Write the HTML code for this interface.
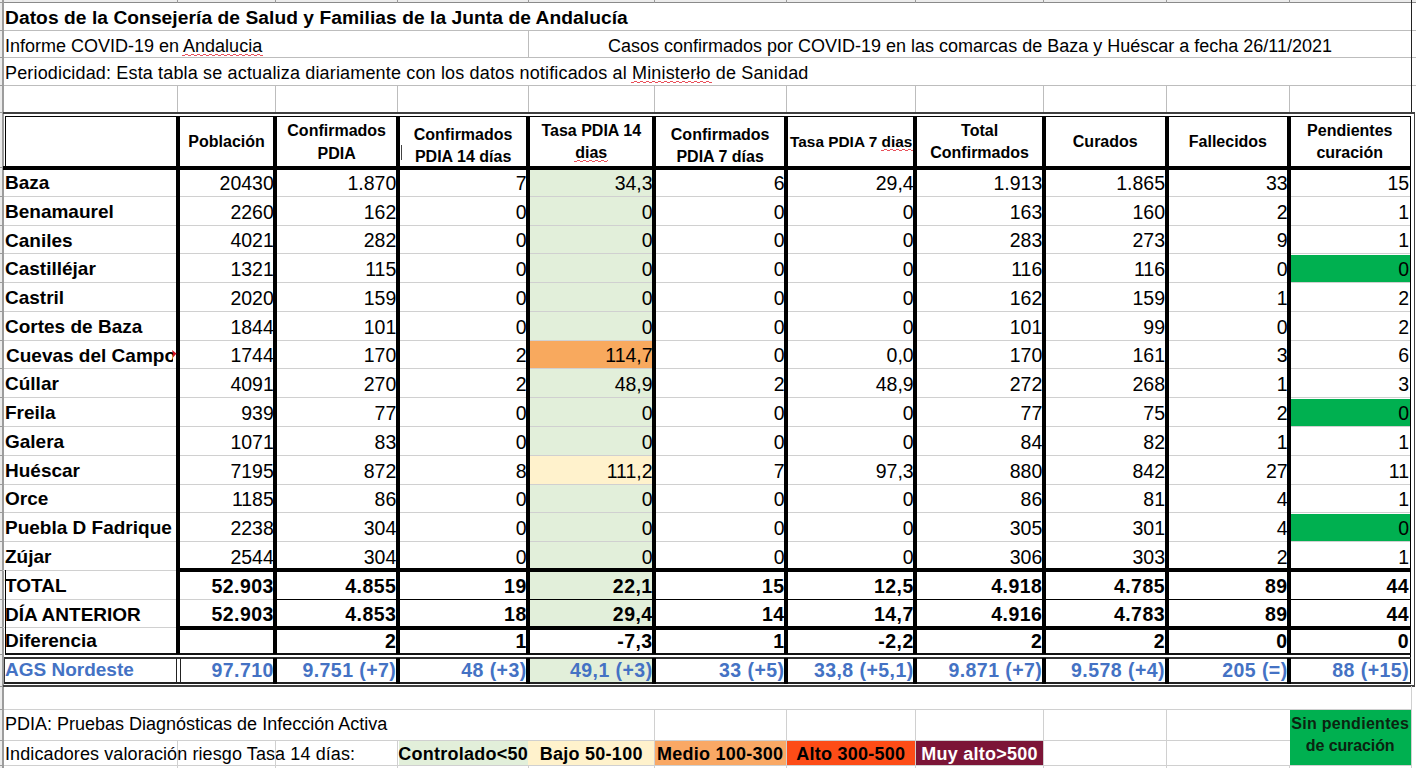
<!DOCTYPE html>
<html><head><meta charset="utf-8"><style>
html,body{margin:0;padding:0;background:#fff;}
body{position:relative;width:1416px;height:768px;overflow:hidden;font-family:"Liberation Sans",sans-serif;}
body>div{position:absolute;}
.t{white-space:nowrap;line-height:0;height:0;color:#000;}
.sq{position:relative;}
.sq::after{content:'';position:absolute;left:-1px;right:-1px;top:calc(0.905em + 2px);height:2px;background:repeating-linear-gradient(90deg,transparent 0 3px,#e8505a 3px 6px) 0 0/100% 1px no-repeat,repeating-linear-gradient(90deg,#e8505a 0 3px,transparent 3px 6px) 0 1px/100% 1px no-repeat;}
</style></head><body>
<div style="left:0px;top:0px;width:1416px;height:2px;background:#ececec;"></div>
<div style="left:0px;top:0px;width:2px;height:768px;background:#ececec;"></div>
<div style="left:530px;top:170px;width:122px;height:458px;background:#e2efda;"></div>
<div style="left:530px;top:659px;width:122px;height:23px;background:#e2efda;"></div>
<div style="left:530px;top:341px;width:122px;height:28px;background:#f8a95e;"></div>
<div style="left:530px;top:456px;width:122px;height:28px;background:#fff2cc;"></div>
<div style="left:1291px;top:255px;width:119px;height:28px;background:#00b050;"></div>
<div style="left:1291px;top:399px;width:119px;height:28px;background:#00b050;"></div>
<div style="left:1291px;top:514px;width:119px;height:28px;background:#00b050;"></div>
<div style="left:399px;top:741px;width:129px;height:24px;background:#e2efda;"></div>
<div style="left:528px;top:741px;width:126px;height:24px;background:#fff2cc;"></div>
<div style="left:654px;top:741px;width:132px;height:24px;background:#f9a865;"></div>
<div style="left:786px;top:741px;width:129px;height:24px;background:#fd4c17;"></div>
<div style="left:915px;top:741px;width:129px;height:24px;background:#7c1537;"></div>
<div style="left:2px;top:2px;width:1414px;height:1px;background:#8a8a8a;"></div>
<div style="left:2px;top:30px;width:1414px;height:1px;background:#bdbdbd;"></div>
<div style="left:2px;top:57px;width:1414px;height:1px;background:#bdbdbd;"></div>
<div style="left:2px;top:85px;width:1414px;height:1px;background:#bdbdbd;"></div>
<div style="left:0px;top:2px;width:2px;height:1px;background:#9a9a9a;"></div>
<div style="left:0px;top:30px;width:2px;height:1px;background:#9a9a9a;"></div>
<div style="left:0px;top:57px;width:2px;height:1px;background:#9a9a9a;"></div>
<div style="left:0px;top:85px;width:2px;height:1px;background:#9a9a9a;"></div>
<div style="left:0px;top:112px;width:2px;height:1px;background:#9a9a9a;"></div>
<div style="left:0px;top:167px;width:2px;height:1px;background:#9a9a9a;"></div>
<div style="left:0px;top:196px;width:2px;height:1px;background:#9a9a9a;"></div>
<div style="left:0px;top:225px;width:2px;height:1px;background:#9a9a9a;"></div>
<div style="left:0px;top:253px;width:2px;height:1px;background:#9a9a9a;"></div>
<div style="left:0px;top:282px;width:2px;height:1px;background:#9a9a9a;"></div>
<div style="left:0px;top:311px;width:2px;height:1px;background:#9a9a9a;"></div>
<div style="left:0px;top:340px;width:2px;height:1px;background:#9a9a9a;"></div>
<div style="left:0px;top:368px;width:2px;height:1px;background:#9a9a9a;"></div>
<div style="left:0px;top:397px;width:2px;height:1px;background:#9a9a9a;"></div>
<div style="left:0px;top:426px;width:2px;height:1px;background:#9a9a9a;"></div>
<div style="left:0px;top:455px;width:2px;height:1px;background:#9a9a9a;"></div>
<div style="left:0px;top:484px;width:2px;height:1px;background:#9a9a9a;"></div>
<div style="left:0px;top:512px;width:2px;height:1px;background:#9a9a9a;"></div>
<div style="left:0px;top:541px;width:2px;height:1px;background:#9a9a9a;"></div>
<div style="left:0px;top:570px;width:2px;height:1px;background:#9a9a9a;"></div>
<div style="left:0px;top:599px;width:2px;height:1px;background:#9a9a9a;"></div>
<div style="left:0px;top:627px;width:2px;height:1px;background:#9a9a9a;"></div>
<div style="left:0px;top:654px;width:2px;height:1px;background:#9a9a9a;"></div>
<div style="left:0px;top:686px;width:2px;height:1px;background:#9a9a9a;"></div>
<div style="left:0px;top:709px;width:2px;height:1px;background:#9a9a9a;"></div>
<div style="left:0px;top:740px;width:2px;height:1px;background:#9a9a9a;"></div>
<div style="left:0px;top:765px;width:2px;height:1px;background:#9a9a9a;"></div>
<div style="left:2px;top:0px;width:2px;height:768px;background:#9c9c9c;"></div>
<div style="left:528px;top:30px;width:1px;height:27px;background:#bdbdbd;"></div>
<div style="left:177px;top:85px;width:1px;height:27px;background:#bdbdbd;"></div>
<div style="left:275px;top:85px;width:1px;height:27px;background:#bdbdbd;"></div>
<div style="left:397px;top:85px;width:1px;height:27px;background:#bdbdbd;"></div>
<div style="left:528px;top:85px;width:1px;height:27px;background:#bdbdbd;"></div>
<div style="left:654px;top:85px;width:1px;height:27px;background:#bdbdbd;"></div>
<div style="left:786px;top:85px;width:1px;height:27px;background:#bdbdbd;"></div>
<div style="left:915px;top:85px;width:1px;height:27px;background:#bdbdbd;"></div>
<div style="left:1043px;top:85px;width:1px;height:27px;background:#bdbdbd;"></div>
<div style="left:1166px;top:85px;width:1px;height:27px;background:#bdbdbd;"></div>
<div style="left:1289px;top:85px;width:1px;height:27px;background:#bdbdbd;"></div>
<div style="left:177px;top:0px;width:1px;height:3px;background:#999;"></div>
<div style="left:275px;top:0px;width:1px;height:3px;background:#999;"></div>
<div style="left:397px;top:0px;width:1px;height:3px;background:#999;"></div>
<div style="left:528px;top:0px;width:1px;height:3px;background:#999;"></div>
<div style="left:654px;top:0px;width:1px;height:3px;background:#999;"></div>
<div style="left:786px;top:0px;width:1px;height:3px;background:#999;"></div>
<div style="left:915px;top:0px;width:1px;height:3px;background:#999;"></div>
<div style="left:1043px;top:0px;width:1px;height:3px;background:#999;"></div>
<div style="left:1166px;top:0px;width:1px;height:3px;background:#999;"></div>
<div style="left:1289px;top:0px;width:1px;height:3px;background:#999;"></div>
<div style="left:1411px;top:0px;width:1px;height:113px;background:#222;"></div>
<div style="left:3px;top:112px;width:1412px;height:2px;background:#404040;"></div>
<div style="left:1414px;top:112px;width:1px;height:575px;background:#404040;"></div>
<div style="left:3px;top:685px;width:1412px;height:2px;background:#404040;"></div>
<div style="left:5px;top:116px;width:1406px;height:1px;background:#000;"></div>
<div style="left:5px;top:116px;width:1px;height:52px;background:#000;"></div>
<div style="left:1410px;top:116px;width:1px;height:567px;background:#000;"></div>
<div style="left:3px;top:166px;width:1408px;height:4px;background:#000;"></div>
<div style="left:4px;top:196px;width:1406px;height:1px;background:#d0d0d0;"></div>
<div style="left:4px;top:225px;width:1406px;height:1px;background:#d0d0d0;"></div>
<div style="left:4px;top:253px;width:1406px;height:1px;background:#d0d0d0;"></div>
<div style="left:4px;top:282px;width:1406px;height:1px;background:#d0d0d0;"></div>
<div style="left:4px;top:311px;width:1406px;height:1px;background:#d0d0d0;"></div>
<div style="left:4px;top:340px;width:1406px;height:1px;background:#d0d0d0;"></div>
<div style="left:4px;top:368px;width:1406px;height:1px;background:#d0d0d0;"></div>
<div style="left:4px;top:397px;width:1406px;height:1px;background:#d0d0d0;"></div>
<div style="left:4px;top:426px;width:1406px;height:1px;background:#d0d0d0;"></div>
<div style="left:4px;top:455px;width:1406px;height:1px;background:#d0d0d0;"></div>
<div style="left:4px;top:484px;width:1406px;height:1px;background:#d0d0d0;"></div>
<div style="left:4px;top:512px;width:1406px;height:1px;background:#d0d0d0;"></div>
<div style="left:4px;top:541px;width:1406px;height:1px;background:#d0d0d0;"></div>
<div style="left:3px;top:570px;width:173px;height:1px;background:#d0d0d0;"></div>
<div style="left:176px;top:568px;width:1235px;height:4px;background:#000;"></div>
<div style="left:4px;top:599px;width:271px;height:1px;background:#d0d0d0;"></div>
<div style="left:275px;top:599px;width:1136px;height:1px;background:#000;"></div>
<div style="left:3px;top:627px;width:173px;height:1px;background:#d0d0d0;"></div>
<div style="left:176px;top:626px;width:1235px;height:4px;background:#000;"></div>
<div style="left:5px;top:653px;width:1406px;height:2px;background:#111;"></div>
<div style="left:5px;top:570px;width:1px;height:84px;background:#000;"></div>
<div style="left:176px;top:116px;width:4px;height:538px;background:#000;"></div>
<div style="left:273px;top:116px;width:4px;height:538px;background:#000;"></div>
<div style="left:396px;top:116px;width:4px;height:538px;background:#000;"></div>
<div style="left:526px;top:116px;width:4px;height:538px;background:#000;"></div>
<div style="left:652px;top:116px;width:4px;height:538px;background:#000;"></div>
<div style="left:784px;top:116px;width:4px;height:538px;background:#000;"></div>
<div style="left:913px;top:116px;width:4px;height:538px;background:#000;"></div>
<div style="left:1042px;top:116px;width:4px;height:538px;background:#000;"></div>
<div style="left:1165px;top:116px;width:4px;height:538px;background:#000;"></div>
<div style="left:1287px;top:116px;width:4px;height:538px;background:#000;"></div>
<div style="left:4px;top:657px;width:1407px;height:2px;background:#333;"></div>
<div style="left:4px;top:682px;width:1407px;height:2px;background:#222;"></div>
<div style="left:4px;top:658px;width:1px;height:24px;background:#333;"></div>
<div style="left:176px;top:658px;width:1px;height:26px;background:#222;"></div>
<div style="left:180px;top:658px;width:1px;height:26px;background:#222;"></div>
<div style="left:273px;top:658px;width:4px;height:26px;background:#000;"></div>
<div style="left:396px;top:658px;width:4px;height:26px;background:#000;"></div>
<div style="left:526px;top:658px;width:4px;height:26px;background:#000;"></div>
<div style="left:652px;top:658px;width:4px;height:26px;background:#000;"></div>
<div style="left:784px;top:658px;width:4px;height:26px;background:#000;"></div>
<div style="left:913px;top:658px;width:4px;height:26px;background:#000;"></div>
<div style="left:1042px;top:658px;width:4px;height:26px;background:#000;"></div>
<div style="left:1165px;top:658px;width:4px;height:26px;background:#000;"></div>
<div style="left:1287px;top:658px;width:4px;height:26px;background:#000;"></div>
<div style="left:4px;top:709px;width:1408px;height:1px;background:#d0d0d0;"></div>
<div style="left:4px;top:740px;width:1408px;height:1px;background:#d0d0d0;"></div>
<div style="left:4px;top:765px;width:1408px;height:1px;background:#d0d0d0;"></div>
<div style="left:1411px;top:686px;width:1px;height:82px;background:#d0d0d0;"></div>
<div style="left:654px;top:709px;width:1px;height:56px;background:#d0d0d0;"></div>
<div style="left:786px;top:709px;width:1px;height:56px;background:#d0d0d0;"></div>
<div style="left:915px;top:709px;width:1px;height:56px;background:#d0d0d0;"></div>
<div style="left:1043px;top:709px;width:1px;height:56px;background:#d0d0d0;"></div>
<div style="left:1166px;top:709px;width:1px;height:56px;background:#d0d0d0;"></div>
<div style="left:177px;top:740px;width:1px;height:28px;background:#d0d0d0;"></div>
<div style="left:275px;top:740px;width:1px;height:28px;background:#d0d0d0;"></div>
<div style="left:397px;top:740px;width:1px;height:28px;background:#d0d0d0;"></div>
<div style="left:177px;top:765px;width:1px;height:3px;background:#d0d0d0;"></div>
<div style="left:275px;top:765px;width:1px;height:3px;background:#d0d0d0;"></div>
<div style="left:397px;top:765px;width:1px;height:3px;background:#d0d0d0;"></div>
<div style="left:528px;top:765px;width:1px;height:3px;background:#d0d0d0;"></div>
<div style="left:654px;top:765px;width:1px;height:3px;background:#d0d0d0;"></div>
<div style="left:786px;top:765px;width:1px;height:3px;background:#d0d0d0;"></div>
<div style="left:915px;top:765px;width:1px;height:3px;background:#d0d0d0;"></div>
<div style="left:1043px;top:765px;width:1px;height:3px;background:#d0d0d0;"></div>
<div style="left:1166px;top:765px;width:1px;height:3px;background:#d0d0d0;"></div>
<div style="left:1289px;top:765px;width:1px;height:3px;background:#d0d0d0;"></div>
<div class="t" style="top:17.55px;font-size:19.2px;font-weight:700;color:#000;letter-spacing:0.06px;left:5px;">Datos de la Consejería de Salud y Familias de la Junta de Andalucía</div>
<div class="t" style="top:46.16px;font-size:18px;font-weight:400;color:#000;left:5px;">Informe COVID-19 en <span class="sq">Andalucia</span></div>
<div class="t" style="top:46.16px;font-size:18px;font-weight:400;color:#000;left:370.00px;width:1200px;text-align:center;">Casos confirmados por COVID-19 en las comarcas de Baza y Huéscar a fecha 26/11/2021</div>
<div class="t" style="top:73.16px;font-size:18px;font-weight:400;color:#000;letter-spacing:0.16px;left:5px;">Periodicidad: Esta tabla se actualiza diariamente con los datos notificados al <span class="sq">Ministerło</span> de Sanidad</div>
<div style="left:401px;top:145px;width:1px;height:15px;background:#444;"></div>
<div class="t" style="top:142.46px;font-size:16px;font-weight:700;color:#000;left:-373.45px;width:1200px;text-align:center;">Población</div>
<div class="t" style="top:131.46px;font-size:16px;font-weight:700;color:#000;left:-263.35px;width:1200px;text-align:center;">Confirmados</div>
<div class="t" style="top:153.76px;font-size:16px;font-weight:700;color:#000;left:-263.35px;width:1200px;text-align:center;">PDIA</div>
<div class="t" style="top:134.86px;font-size:16px;font-weight:700;color:#000;left:-136.90px;width:1200px;text-align:center;">Confirmados</div>
<div class="t" style="top:157.26px;font-size:16px;font-weight:700;color:#000;left:-136.90px;width:1200px;text-align:center;">PDIA 14 días</div>
<div class="t" style="top:130.86px;font-size:16px;font-weight:700;color:#000;left:-8.75px;width:1200px;text-align:center;">Tasa PDIA 14</div>
<div class="t" style="top:152.66px;font-size:16px;font-weight:700;color:#000;left:-8.75px;width:1200px;text-align:center;"><span class="sq">dias</span></div>
<div class="t" style="top:135.06px;font-size:16px;font-weight:700;color:#000;left:120.15px;width:1200px;text-align:center;">Confirmados</div>
<div class="t" style="top:157.06px;font-size:16px;font-weight:700;color:#000;left:120.15px;width:1200px;text-align:center;">PDIA 7 días</div>
<div class="t" style="top:131.06px;font-size:16px;font-weight:700;color:#000;left:379.60px;width:1200px;text-align:center;">Total</div>
<div class="t" style="top:153.26px;font-size:16px;font-weight:700;color:#000;left:379.60px;width:1200px;text-align:center;">Confirmados</div>
<div class="t" style="top:131.46px;font-size:16px;font-weight:700;color:#000;left:749.75px;width:1200px;text-align:center;">Pendientes</div>
<div class="t" style="top:153.26px;font-size:16px;font-weight:700;color:#000;left:749.75px;width:1200px;text-align:center;">curación</div>
<div class="t" style="top:142.46px;font-size:15.4px;font-weight:700;color:#000;left:251.20px;width:1200px;text-align:center;">Tasa PDIA 7 <span class="sq">dias</span></div>
<div class="t" style="top:142.46px;font-size:16px;font-weight:700;color:#000;left:505.25px;width:1200px;text-align:center;">Curados</div>
<div class="t" style="top:142.46px;font-size:16px;font-weight:700;color:#000;left:627.90px;width:1200px;text-align:center;">Fallecidos</div>
<div class="t" style="top:182.99px;font-size:19px;font-weight:700;color:#000;left:5px;">Baza</div>
<div class="t" style="top:182.81px;font-size:19.5px;font-weight:400;color:#000;right:1142.20px;">20430</div>
<div class="t" style="top:182.81px;font-size:19.5px;font-weight:400;color:#000;right:1019.70px;">1.870</div>
<div class="t" style="top:182.81px;font-size:19.5px;font-weight:400;color:#000;right:889.30px;">7</div>
<div class="t" style="top:182.81px;font-size:19.5px;font-weight:400;color:#000;right:763.40px;">34,3</div>
<div class="t" style="top:182.81px;font-size:19.5px;font-weight:400;color:#000;right:631.50px;">6</div>
<div class="t" style="top:182.81px;font-size:19.5px;font-weight:400;color:#000;right:502.30px;">29,4</div>
<div class="t" style="top:182.81px;font-size:19.5px;font-weight:400;color:#000;right:373.70px;">1.913</div>
<div class="t" style="top:182.81px;font-size:19.5px;font-weight:400;color:#000;right:251.00px;">1.865</div>
<div class="t" style="top:182.81px;font-size:19.5px;font-weight:400;color:#000;right:128.40px;">33</div>
<div class="t" style="top:182.81px;font-size:19.5px;font-weight:400;color:#000;right:6.90px;">15</div>
<div class="t" style="top:211.76px;font-size:19px;font-weight:700;color:#000;left:5px;">Benamaurel</div>
<div class="t" style="top:211.58px;font-size:19.5px;font-weight:400;color:#000;right:1142.20px;">2260</div>
<div class="t" style="top:211.58px;font-size:19.5px;font-weight:400;color:#000;right:1019.70px;">162</div>
<div class="t" style="top:211.58px;font-size:19.5px;font-weight:400;color:#000;right:889.30px;">0</div>
<div class="t" style="top:211.58px;font-size:19.5px;font-weight:400;color:#000;right:763.40px;">0</div>
<div class="t" style="top:211.58px;font-size:19.5px;font-weight:400;color:#000;right:631.50px;">0</div>
<div class="t" style="top:211.58px;font-size:19.5px;font-weight:400;color:#000;right:502.30px;">0</div>
<div class="t" style="top:211.58px;font-size:19.5px;font-weight:400;color:#000;right:373.70px;">163</div>
<div class="t" style="top:211.58px;font-size:19.5px;font-weight:400;color:#000;right:251.00px;">160</div>
<div class="t" style="top:211.58px;font-size:19.5px;font-weight:400;color:#000;right:128.40px;">2</div>
<div class="t" style="top:211.58px;font-size:19.5px;font-weight:400;color:#000;right:6.90px;">1</div>
<div class="t" style="top:240.53px;font-size:19px;font-weight:700;color:#000;left:5px;">Caniles</div>
<div class="t" style="top:240.35px;font-size:19.5px;font-weight:400;color:#000;right:1142.20px;">4021</div>
<div class="t" style="top:240.35px;font-size:19.5px;font-weight:400;color:#000;right:1019.70px;">282</div>
<div class="t" style="top:240.35px;font-size:19.5px;font-weight:400;color:#000;right:889.30px;">0</div>
<div class="t" style="top:240.35px;font-size:19.5px;font-weight:400;color:#000;right:763.40px;">0</div>
<div class="t" style="top:240.35px;font-size:19.5px;font-weight:400;color:#000;right:631.50px;">0</div>
<div class="t" style="top:240.35px;font-size:19.5px;font-weight:400;color:#000;right:502.30px;">0</div>
<div class="t" style="top:240.35px;font-size:19.5px;font-weight:400;color:#000;right:373.70px;">283</div>
<div class="t" style="top:240.35px;font-size:19.5px;font-weight:400;color:#000;right:251.00px;">273</div>
<div class="t" style="top:240.35px;font-size:19.5px;font-weight:400;color:#000;right:128.40px;">9</div>
<div class="t" style="top:240.35px;font-size:19.5px;font-weight:400;color:#000;right:6.90px;">1</div>
<div class="t" style="top:269.30px;font-size:19px;font-weight:700;color:#000;left:5px;">Castilléjar</div>
<div class="t" style="top:269.12px;font-size:19.5px;font-weight:400;color:#000;right:1142.20px;">1321</div>
<div class="t" style="top:269.12px;font-size:19.5px;font-weight:400;color:#000;right:1019.70px;">115</div>
<div class="t" style="top:269.12px;font-size:19.5px;font-weight:400;color:#000;right:889.30px;">0</div>
<div class="t" style="top:269.12px;font-size:19.5px;font-weight:400;color:#000;right:763.40px;">0</div>
<div class="t" style="top:269.12px;font-size:19.5px;font-weight:400;color:#000;right:631.50px;">0</div>
<div class="t" style="top:269.12px;font-size:19.5px;font-weight:400;color:#000;right:502.30px;">0</div>
<div class="t" style="top:269.12px;font-size:19.5px;font-weight:400;color:#000;right:373.70px;">116</div>
<div class="t" style="top:269.12px;font-size:19.5px;font-weight:400;color:#000;right:251.00px;">116</div>
<div class="t" style="top:269.12px;font-size:19.5px;font-weight:400;color:#000;right:128.40px;">0</div>
<div class="t" style="top:269.12px;font-size:19.5px;font-weight:400;color:#000;right:6.90px;">0</div>
<div class="t" style="top:298.07px;font-size:19px;font-weight:700;color:#000;left:5px;">Castril</div>
<div class="t" style="top:297.89px;font-size:19.5px;font-weight:400;color:#000;right:1142.20px;">2020</div>
<div class="t" style="top:297.89px;font-size:19.5px;font-weight:400;color:#000;right:1019.70px;">159</div>
<div class="t" style="top:297.89px;font-size:19.5px;font-weight:400;color:#000;right:889.30px;">0</div>
<div class="t" style="top:297.89px;font-size:19.5px;font-weight:400;color:#000;right:763.40px;">0</div>
<div class="t" style="top:297.89px;font-size:19.5px;font-weight:400;color:#000;right:631.50px;">0</div>
<div class="t" style="top:297.89px;font-size:19.5px;font-weight:400;color:#000;right:502.30px;">0</div>
<div class="t" style="top:297.89px;font-size:19.5px;font-weight:400;color:#000;right:373.70px;">162</div>
<div class="t" style="top:297.89px;font-size:19.5px;font-weight:400;color:#000;right:251.00px;">159</div>
<div class="t" style="top:297.89px;font-size:19.5px;font-weight:400;color:#000;right:128.40px;">1</div>
<div class="t" style="top:297.89px;font-size:19.5px;font-weight:400;color:#000;right:6.90px;">2</div>
<div class="t" style="top:326.84px;font-size:19px;font-weight:700;color:#000;left:5px;">Cortes de Baza</div>
<div class="t" style="top:326.66px;font-size:19.5px;font-weight:400;color:#000;right:1142.20px;">1844</div>
<div class="t" style="top:326.66px;font-size:19.5px;font-weight:400;color:#000;right:1019.70px;">101</div>
<div class="t" style="top:326.66px;font-size:19.5px;font-weight:400;color:#000;right:889.30px;">0</div>
<div class="t" style="top:326.66px;font-size:19.5px;font-weight:400;color:#000;right:763.40px;">0</div>
<div class="t" style="top:326.66px;font-size:19.5px;font-weight:400;color:#000;right:631.50px;">0</div>
<div class="t" style="top:326.66px;font-size:19.5px;font-weight:400;color:#000;right:502.30px;">0</div>
<div class="t" style="top:326.66px;font-size:19.5px;font-weight:400;color:#000;right:373.70px;">101</div>
<div class="t" style="top:326.66px;font-size:19.5px;font-weight:400;color:#000;right:251.00px;">99</div>
<div class="t" style="top:326.66px;font-size:19.5px;font-weight:400;color:#000;right:128.40px;">0</div>
<div class="t" style="top:326.66px;font-size:19.5px;font-weight:400;color:#000;right:6.90px;">2</div>
<div style="left:6px;top:342.54px;width:167px;height:23.4px;overflow:hidden;white-space:nowrap;line-height:normal;padding-top:0;font-size:19px;font-weight:700;"><div style="position:relative;top:2px">Cuevas del Campo</div></div>
<div class="t" style="top:355.43px;font-size:19.5px;font-weight:400;color:#000;right:1142.20px;">1744</div>
<div class="t" style="top:355.43px;font-size:19.5px;font-weight:400;color:#000;right:1019.70px;">170</div>
<div class="t" style="top:355.43px;font-size:19.5px;font-weight:400;color:#000;right:889.30px;">2</div>
<div class="t" style="top:355.43px;font-size:19.5px;font-weight:400;color:#000;right:763.40px;">114,7</div>
<div class="t" style="top:355.43px;font-size:19.5px;font-weight:400;color:#000;right:631.50px;">0</div>
<div class="t" style="top:355.43px;font-size:19.5px;font-weight:400;color:#000;right:502.30px;">0,0</div>
<div class="t" style="top:355.43px;font-size:19.5px;font-weight:400;color:#000;right:373.70px;">170</div>
<div class="t" style="top:355.43px;font-size:19.5px;font-weight:400;color:#000;right:251.00px;">161</div>
<div class="t" style="top:355.43px;font-size:19.5px;font-weight:400;color:#000;right:128.40px;">3</div>
<div class="t" style="top:355.43px;font-size:19.5px;font-weight:400;color:#000;right:6.90px;">6</div>
<div class="t" style="top:384.38px;font-size:19px;font-weight:700;color:#000;left:5px;">Cúllar</div>
<div class="t" style="top:384.20px;font-size:19.5px;font-weight:400;color:#000;right:1142.20px;">4091</div>
<div class="t" style="top:384.20px;font-size:19.5px;font-weight:400;color:#000;right:1019.70px;">270</div>
<div class="t" style="top:384.20px;font-size:19.5px;font-weight:400;color:#000;right:889.30px;">2</div>
<div class="t" style="top:384.20px;font-size:19.5px;font-weight:400;color:#000;right:763.40px;">48,9</div>
<div class="t" style="top:384.20px;font-size:19.5px;font-weight:400;color:#000;right:631.50px;">2</div>
<div class="t" style="top:384.20px;font-size:19.5px;font-weight:400;color:#000;right:502.30px;">48,9</div>
<div class="t" style="top:384.20px;font-size:19.5px;font-weight:400;color:#000;right:373.70px;">272</div>
<div class="t" style="top:384.20px;font-size:19.5px;font-weight:400;color:#000;right:251.00px;">268</div>
<div class="t" style="top:384.20px;font-size:19.5px;font-weight:400;color:#000;right:128.40px;">1</div>
<div class="t" style="top:384.20px;font-size:19.5px;font-weight:400;color:#000;right:6.90px;">3</div>
<div class="t" style="top:413.15px;font-size:19px;font-weight:700;color:#000;left:5px;">Freila</div>
<div class="t" style="top:412.97px;font-size:19.5px;font-weight:400;color:#000;right:1142.20px;">939</div>
<div class="t" style="top:412.97px;font-size:19.5px;font-weight:400;color:#000;right:1019.70px;">77</div>
<div class="t" style="top:412.97px;font-size:19.5px;font-weight:400;color:#000;right:889.30px;">0</div>
<div class="t" style="top:412.97px;font-size:19.5px;font-weight:400;color:#000;right:763.40px;">0</div>
<div class="t" style="top:412.97px;font-size:19.5px;font-weight:400;color:#000;right:631.50px;">0</div>
<div class="t" style="top:412.97px;font-size:19.5px;font-weight:400;color:#000;right:502.30px;">0</div>
<div class="t" style="top:412.97px;font-size:19.5px;font-weight:400;color:#000;right:373.70px;">77</div>
<div class="t" style="top:412.97px;font-size:19.5px;font-weight:400;color:#000;right:251.00px;">75</div>
<div class="t" style="top:412.97px;font-size:19.5px;font-weight:400;color:#000;right:128.40px;">2</div>
<div class="t" style="top:412.97px;font-size:19.5px;font-weight:400;color:#000;right:6.90px;">0</div>
<div class="t" style="top:441.92px;font-size:19px;font-weight:700;color:#000;left:5px;">Galera</div>
<div class="t" style="top:441.74px;font-size:19.5px;font-weight:400;color:#000;right:1142.20px;">1071</div>
<div class="t" style="top:441.74px;font-size:19.5px;font-weight:400;color:#000;right:1019.70px;">83</div>
<div class="t" style="top:441.74px;font-size:19.5px;font-weight:400;color:#000;right:889.30px;">0</div>
<div class="t" style="top:441.74px;font-size:19.5px;font-weight:400;color:#000;right:763.40px;">0</div>
<div class="t" style="top:441.74px;font-size:19.5px;font-weight:400;color:#000;right:631.50px;">0</div>
<div class="t" style="top:441.74px;font-size:19.5px;font-weight:400;color:#000;right:502.30px;">0</div>
<div class="t" style="top:441.74px;font-size:19.5px;font-weight:400;color:#000;right:373.70px;">84</div>
<div class="t" style="top:441.74px;font-size:19.5px;font-weight:400;color:#000;right:251.00px;">82</div>
<div class="t" style="top:441.74px;font-size:19.5px;font-weight:400;color:#000;right:128.40px;">1</div>
<div class="t" style="top:441.74px;font-size:19.5px;font-weight:400;color:#000;right:6.90px;">1</div>
<div class="t" style="top:470.69px;font-size:19px;font-weight:700;color:#000;left:5px;">Huéscar</div>
<div class="t" style="top:470.51px;font-size:19.5px;font-weight:400;color:#000;right:1142.20px;">7195</div>
<div class="t" style="top:470.51px;font-size:19.5px;font-weight:400;color:#000;right:1019.70px;">872</div>
<div class="t" style="top:470.51px;font-size:19.5px;font-weight:400;color:#000;right:889.30px;">8</div>
<div class="t" style="top:470.51px;font-size:19.5px;font-weight:400;color:#000;right:763.40px;">111,2</div>
<div class="t" style="top:470.51px;font-size:19.5px;font-weight:400;color:#000;right:631.50px;">7</div>
<div class="t" style="top:470.51px;font-size:19.5px;font-weight:400;color:#000;right:502.30px;">97,3</div>
<div class="t" style="top:470.51px;font-size:19.5px;font-weight:400;color:#000;right:373.70px;">880</div>
<div class="t" style="top:470.51px;font-size:19.5px;font-weight:400;color:#000;right:251.00px;">842</div>
<div class="t" style="top:470.51px;font-size:19.5px;font-weight:400;color:#000;right:128.40px;">27</div>
<div class="t" style="top:470.51px;font-size:19.5px;font-weight:400;color:#000;right:6.90px;">11</div>
<div class="t" style="top:499.46px;font-size:19px;font-weight:700;color:#000;left:5px;">Orce</div>
<div class="t" style="top:499.28px;font-size:19.5px;font-weight:400;color:#000;right:1142.20px;">1185</div>
<div class="t" style="top:499.28px;font-size:19.5px;font-weight:400;color:#000;right:1019.70px;">86</div>
<div class="t" style="top:499.28px;font-size:19.5px;font-weight:400;color:#000;right:889.30px;">0</div>
<div class="t" style="top:499.28px;font-size:19.5px;font-weight:400;color:#000;right:763.40px;">0</div>
<div class="t" style="top:499.28px;font-size:19.5px;font-weight:400;color:#000;right:631.50px;">0</div>
<div class="t" style="top:499.28px;font-size:19.5px;font-weight:400;color:#000;right:502.30px;">0</div>
<div class="t" style="top:499.28px;font-size:19.5px;font-weight:400;color:#000;right:373.70px;">86</div>
<div class="t" style="top:499.28px;font-size:19.5px;font-weight:400;color:#000;right:251.00px;">81</div>
<div class="t" style="top:499.28px;font-size:19.5px;font-weight:400;color:#000;right:128.40px;">4</div>
<div class="t" style="top:499.28px;font-size:19.5px;font-weight:400;color:#000;right:6.90px;">1</div>
<div class="t" style="top:528.23px;font-size:19px;font-weight:700;color:#000;left:5px;">Puebla D Fadrique</div>
<div class="t" style="top:528.05px;font-size:19.5px;font-weight:400;color:#000;right:1142.20px;">2238</div>
<div class="t" style="top:528.05px;font-size:19.5px;font-weight:400;color:#000;right:1019.70px;">304</div>
<div class="t" style="top:528.05px;font-size:19.5px;font-weight:400;color:#000;right:889.30px;">0</div>
<div class="t" style="top:528.05px;font-size:19.5px;font-weight:400;color:#000;right:763.40px;">0</div>
<div class="t" style="top:528.05px;font-size:19.5px;font-weight:400;color:#000;right:631.50px;">0</div>
<div class="t" style="top:528.05px;font-size:19.5px;font-weight:400;color:#000;right:502.30px;">0</div>
<div class="t" style="top:528.05px;font-size:19.5px;font-weight:400;color:#000;right:373.70px;">305</div>
<div class="t" style="top:528.05px;font-size:19.5px;font-weight:400;color:#000;right:251.00px;">301</div>
<div class="t" style="top:528.05px;font-size:19.5px;font-weight:400;color:#000;right:128.40px;">4</div>
<div class="t" style="top:528.05px;font-size:19.5px;font-weight:400;color:#000;right:6.90px;">0</div>
<div class="t" style="top:557.00px;font-size:19px;font-weight:700;color:#000;left:5px;">Zújar</div>
<div class="t" style="top:556.82px;font-size:19.5px;font-weight:400;color:#000;right:1142.20px;">2544</div>
<div class="t" style="top:556.82px;font-size:19.5px;font-weight:400;color:#000;right:1019.70px;">304</div>
<div class="t" style="top:556.82px;font-size:19.5px;font-weight:400;color:#000;right:889.30px;">0</div>
<div class="t" style="top:556.82px;font-size:19.5px;font-weight:400;color:#000;right:763.40px;">0</div>
<div class="t" style="top:556.82px;font-size:19.5px;font-weight:400;color:#000;right:631.50px;">0</div>
<div class="t" style="top:556.82px;font-size:19.5px;font-weight:400;color:#000;right:502.30px;">0</div>
<div class="t" style="top:556.82px;font-size:19.5px;font-weight:400;color:#000;right:373.70px;">306</div>
<div class="t" style="top:556.82px;font-size:19.5px;font-weight:400;color:#000;right:251.00px;">303</div>
<div class="t" style="top:556.82px;font-size:19.5px;font-weight:400;color:#000;right:128.40px;">2</div>
<div class="t" style="top:556.82px;font-size:19.5px;font-weight:400;color:#000;right:6.90px;">1</div>
<svg style="position:absolute;left:170px;top:349px" width="8" height="10"><polygon points="2,1 6.5,4.5 3,8.5 3,5" fill="#d01020"/></svg>
<div class="t" style="top:585.82px;font-size:19px;font-weight:700;color:#000;left:5px;">TOTAL</div>
<div class="t" style="top:585.64px;font-size:19.5px;font-weight:700;color:#000;letter-spacing:0.45px;right:1142.20px;">52.903</div>
<div class="t" style="top:585.64px;font-size:19.5px;font-weight:700;color:#000;letter-spacing:0.45px;right:1019.70px;">4.855</div>
<div class="t" style="top:585.64px;font-size:19.5px;font-weight:700;color:#000;letter-spacing:0.45px;right:889.30px;">19</div>
<div class="t" style="top:585.64px;font-size:19.5px;font-weight:700;color:#000;letter-spacing:0.45px;right:763.40px;">22,1</div>
<div class="t" style="top:585.64px;font-size:19.5px;font-weight:700;color:#000;letter-spacing:0.45px;right:631.50px;">15</div>
<div class="t" style="top:585.64px;font-size:19.5px;font-weight:700;color:#000;letter-spacing:0.45px;right:502.30px;">12,5</div>
<div class="t" style="top:585.64px;font-size:19.5px;font-weight:700;color:#000;letter-spacing:0.45px;right:373.70px;">4.918</div>
<div class="t" style="top:585.64px;font-size:19.5px;font-weight:700;color:#000;letter-spacing:0.45px;right:251.00px;">4.785</div>
<div class="t" style="top:585.64px;font-size:19.5px;font-weight:700;color:#000;letter-spacing:0.45px;right:128.40px;">89</div>
<div class="t" style="top:585.64px;font-size:19.5px;font-weight:700;color:#000;letter-spacing:0.45px;right:6.90px;">44</div>
<div class="t" style="top:614.52px;font-size:19px;font-weight:700;color:#000;left:5px;">DÍA ANTERIOR</div>
<div class="t" style="top:614.34px;font-size:19.5px;font-weight:700;color:#000;letter-spacing:0.45px;right:1142.20px;">52.903</div>
<div class="t" style="top:614.34px;font-size:19.5px;font-weight:700;color:#000;letter-spacing:0.45px;right:1019.70px;">4.853</div>
<div class="t" style="top:614.34px;font-size:19.5px;font-weight:700;color:#000;letter-spacing:0.45px;right:889.30px;">18</div>
<div class="t" style="top:614.34px;font-size:19.5px;font-weight:700;color:#000;letter-spacing:0.45px;right:763.40px;">29,4</div>
<div class="t" style="top:614.34px;font-size:19.5px;font-weight:700;color:#000;letter-spacing:0.45px;right:631.50px;">14</div>
<div class="t" style="top:614.34px;font-size:19.5px;font-weight:700;color:#000;letter-spacing:0.45px;right:502.30px;">14,7</div>
<div class="t" style="top:614.34px;font-size:19.5px;font-weight:700;color:#000;letter-spacing:0.45px;right:373.70px;">4.916</div>
<div class="t" style="top:614.34px;font-size:19.5px;font-weight:700;color:#000;letter-spacing:0.45px;right:251.00px;">4.783</div>
<div class="t" style="top:614.34px;font-size:19.5px;font-weight:700;color:#000;letter-spacing:0.45px;right:128.40px;">89</div>
<div class="t" style="top:614.34px;font-size:19.5px;font-weight:700;color:#000;letter-spacing:0.45px;right:6.90px;">44</div>
<div class="t" style="top:641.32px;font-size:19px;font-weight:700;color:#000;left:5px;">Diferencia</div>
<div class="t" style="top:641.14px;font-size:19.5px;font-weight:700;color:#000;letter-spacing:0.45px;right:1019.70px;">2</div>
<div class="t" style="top:641.14px;font-size:19.5px;font-weight:700;color:#000;letter-spacing:0.45px;right:889.30px;">1</div>
<div class="t" style="top:641.14px;font-size:19.5px;font-weight:700;color:#000;letter-spacing:0.45px;right:763.40px;">-7,3</div>
<div class="t" style="top:641.14px;font-size:19.5px;font-weight:700;color:#000;letter-spacing:0.45px;right:631.50px;">1</div>
<div class="t" style="top:641.14px;font-size:19.5px;font-weight:700;color:#000;letter-spacing:0.45px;right:502.30px;">-2,2</div>
<div class="t" style="top:641.14px;font-size:19.5px;font-weight:700;color:#000;letter-spacing:0.45px;right:373.70px;">2</div>
<div class="t" style="top:641.14px;font-size:19.5px;font-weight:700;color:#000;letter-spacing:0.45px;right:251.00px;">2</div>
<div class="t" style="top:641.14px;font-size:19.5px;font-weight:700;color:#000;letter-spacing:0.45px;right:128.40px;">0</div>
<div class="t" style="top:641.14px;font-size:19.5px;font-weight:700;color:#000;letter-spacing:0.45px;right:6.90px;">0</div>
<div class="t" style="top:670.42px;font-size:19px;font-weight:700;color:#4472c4;left:5px;">AGS Nordeste</div>
<div class="t" style="top:670.24px;font-size:19.5px;font-weight:700;color:#4472c4;letter-spacing:0.45px;right:1142.20px;">97.710</div>
<div class="t" style="top:670.24px;font-size:19.5px;font-weight:700;color:#4472c4;letter-spacing:0.45px;right:1019.70px;">9.751 (+7)</div>
<div class="t" style="top:670.24px;font-size:19.5px;font-weight:700;color:#4472c4;letter-spacing:0.45px;right:889.30px;">48 (+3)</div>
<div class="t" style="top:670.24px;font-size:19.5px;font-weight:700;color:#4472c4;letter-spacing:0.45px;right:763.40px;">49,1 (+3)</div>
<div class="t" style="top:670.24px;font-size:19.5px;font-weight:700;color:#4472c4;letter-spacing:0.45px;right:631.50px;">33 (+5)</div>
<div class="t" style="top:670.24px;font-size:19.5px;font-weight:700;color:#4472c4;letter-spacing:0.45px;right:502.30px;">33,8 (+5,1)</div>
<div class="t" style="top:670.24px;font-size:19.5px;font-weight:700;color:#4472c4;letter-spacing:0.45px;right:373.70px;">9.871 (+7)</div>
<div class="t" style="top:670.24px;font-size:19.5px;font-weight:700;color:#4472c4;letter-spacing:0.45px;right:251.00px;">9.578 (+4)</div>
<div class="t" style="top:670.24px;font-size:19.5px;font-weight:700;color:#4472c4;letter-spacing:0.45px;right:128.40px;">205 (=)</div>
<div class="t" style="top:670.24px;font-size:19.5px;font-weight:700;color:#4472c4;letter-spacing:0.45px;right:6.90px;">88 (+15)</div>
<div style="left:1290px;top:710px;width:121px;height:55px;background:#00b050;"></div>
<div class="t" style="top:723.66px;font-size:18px;font-weight:400;color:#000;left:5px;">PDIA: Pruebas Diagnósticas de Infección Activa</div>
<div class="t" style="top:754.26px;font-size:18px;font-weight:400;color:#000;letter-spacing:0.1px;left:5px;">Indicadores valoración riesgo Tasa 14 días:</div>
<div class="t" style="top:754.16px;font-size:18px;font-weight:700;color:#000;letter-spacing:0.25px;left:-136.90px;width:1200px;text-align:center;">Controlado&lt;50</div>
<div class="t" style="top:754.16px;font-size:18px;font-weight:700;color:#000;letter-spacing:0.25px;left:-8.75px;width:1200px;text-align:center;">Bajo 50-100</div>
<div class="t" style="top:754.16px;font-size:18px;font-weight:700;color:#000;letter-spacing:0.25px;left:120.15px;width:1200px;text-align:center;">Medio 100-300</div>
<div class="t" style="top:754.16px;font-size:18px;font-weight:700;color:#000;letter-spacing:0.25px;left:250.70px;width:1200px;text-align:center;">Alto 300-500</div>
<div class="t" style="top:754.16px;font-size:18px;font-weight:700;color:#fff;letter-spacing:0.25px;left:379.60px;width:1200px;text-align:center;">Muy alto&gt;500</div>
<div class="t" style="top:723.86px;font-size:16px;font-weight:700;color:#0b2410;letter-spacing:0.3px;left:750.20px;width:1200px;text-align:center;">Sin pendientes</div>
<div class="t" style="top:746.26px;font-size:16px;font-weight:700;color:#0b2410;letter-spacing:-0.1px;left:750.20px;width:1200px;text-align:center;">de curación</div>
<div style="left:177px;top:741px;width:1px;height:24px;background:#d0d0d0;"></div>
<div style="left:275px;top:741px;width:1px;height:24px;background:#d0d0d0;"></div>
</body></html>
